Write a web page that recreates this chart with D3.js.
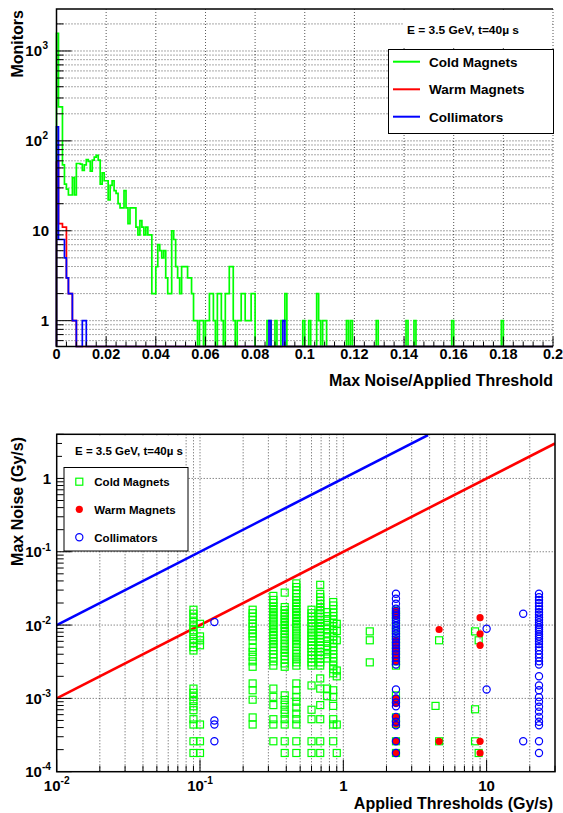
<!DOCTYPE html>
<html><head><meta charset="utf-8">
<script src="https://cdn.jsdelivr.net/npm/d3@7"></script>
<style>
body{margin:0;background:#fff}
svg{display:block}
text{font-family:"Liberation Sans",Arial,Helvetica,sans-serif;font-weight:bold;fill:#000}
</style></head><body>
<svg id="c" width="563" height="813"></svg>
<script>
// ================= DATA =================
// Top histogram: bins of width 0.0008 from 0 to 0.2 (250 bins)
const binWidth = 0.0008;
const greenCounts = [
1575,239,239,54,33,29,25,25,39,25,
56,56,55,47,54,62,59,46,61,66,
69,61,33,44,36,36,22,32,36,28,
26,20,18,18,28,18,12,18,18,18,
11,9,13,11,9,11,9,9,2,2,
4,7,6,5,6,3,2,2,10,8,
4,3,2,4,4,4,3,3,2,1,
1,0,1,1,0,1,1,2,2,1,
0,2,2,1,0,2,2,4,4,1,
0,1,1,2,2,1,1,1,2,2,
0,0,0,0,0,0,1,1,0,0,
1,0,0,1,1,2,0,0,0,0,
0,0,0,0,1,0,0,1,0,0,
0,2,1,0,1,1,0,0,0,0,
0,0,0,0,0,0,1,0,1,0,
0,0,0,0,0,0,0,0,0,0,
0,1,0,0,0,0,0,0,0,0,
0,0,0,0,0,0,1,0,0,0,
1,0,0,0,0,0,0,0,0,0,
0,0,0,0,0,0,0,0,0,1,
0,0,0,0,0,0,0,0,0,0,
0,0,0,0,0,0,0,0,0,0,
0,0,0,0,1,0,0,0,0,0,
0,0,0,0,0,0,0,0,0,0,
0,0,0,0,0,0,0,0,0,0];
const redCounts = [
58,12,12,11,11,3,2,2,1,1,
0,0,0,0,0,0,0,0,0,0];
const blueCounts = [
143,8,8,8,5,3,2,2,1,1,
0,0,0,1,1,0,0,0,0,0,
0,0,0,0,0,0,0,0,0,0,0,0,0,0,0,0,0,0,0,0,
0,0,0,0,0,0,0,0,0,0,0,0,0,0,0,0,0,0,0,0,
0,0,0,0,0,0,0,0,0,0,0,0,0,0,0,0,0,0,0,0,
0,0,0,0,0,0,0,0,0,0,0,0,0,0,0,0,0,0,0,0,
0,0,0,0,0,0,0,1,0,0,0,0,0,0,1,0];
const histSeries = ["Cold Magnets","Warm Magnets","Collimators"];
const topXTicks = [0,0.02,0.04,0.06,0.08,0.1,0.12,0.14,0.16,0.18,0.2];
const topXLabels = ["0","0.02","0.04","0.06","0.08","0.1","0.12","0.14","0.16","0.18","0.2"];
const topYTicks = [1,10,100,1000];
const topYLabelBase = ["1","10","10","10"];
const topYLabelExp = ["","","2","3"];

// Bottom scatter: columns of points (x = applied threshold, y = max noise)
const coldX = [0.09,0.1,0.233,0.325,0.39,0.47,0.6,0.69,0.77,0.85,0.9,1.53,2.33,4.4,4.66,8.3,8.8];
const coldY = [
 [0.0162,0.0143,0.0126,0.011,0.0096,0.0085,0.0075,0.0065,0.0057,0.005,0.0045,0.00136,0.00119,0.00105,0.00092,0.00078,0.00069,0.00052,0.00044,0.00026,0.00018],
 [0.0104,0.007,0.0062,0.0053,0.00044,0.00026,0.00018],
 [0.0162,0.0145,0.013,0.0118,0.0105,0.0095,0.0085,0.0077,0.007,0.0062,0.0049,0.0043,0.0037,0.0032,0.0027,0.0016,0.00129,0.00096,0.00055,0.00044],
 [0.025,0.022,0.02,0.018,0.0165,0.015,0.0138,0.0126,0.0115,0.0105,0.0096,0.0088,0.008,0.0073,0.0066,0.006,0.0055,0.005,0.0045,0.004,0.0036,0.0032,0.0028,0.00136,0.00105,0.00081,0.00052,0.00044,0.00026],
 [0.0277,0.0176,0.016,0.0145,0.0132,0.012,0.011,0.01,0.0091,0.0083,0.0075,0.0068,0.0062,0.0056,0.0051,0.0046,0.0042,0.0038,0.0034,0.003,0.0027,0.0011,0.00095,0.00082,0.0007,0.00062,0.00052,0.00044,0.00026,0.00018],
 [0.037,0.033,0.03,0.027,0.024,0.022,0.02,0.018,0.0165,0.015,0.0137,0.0125,0.0114,0.0104,0.0095,0.0087,0.0079,0.0072,0.0066,0.006,0.0055,0.005,0.0045,0.0041,0.0037,0.0034,0.0031,0.0028,0.0016,0.00129,0.00105,0.0009,0.00075,0.00062,0.00052,0.00044,0.00026,0.00018],
 [0.0162,0.0145,0.013,0.0118,0.0106,0.0096,0.0087,0.0079,0.0072,0.0065,0.0059,0.0053,0.0048,0.0043,0.0039,0.0035,0.0031,0.0028,0.0015,0.0007,0.00052,0.00026,0.00018],
 [0.0354,0.0267,0.024,0.0215,0.0195,0.0175,0.016,0.0145,0.013,0.0118,0.0107,0.0097,0.0088,0.008,0.0072,0.0065,0.0059,0.0053,0.0048,0.0043,0.0039,0.0035,0.0031,0.0028,0.00187,0.00136,0.00081,0.00052,0.00026,0.00018],
 [0.015,0.0132,0.0115,0.01,0.0088,0.0077,0.0068,0.006,0.0052,0.0046,0.004,0.0035,0.00136,0.00107],
 [0.0206,0.0185,0.0165,0.0148,0.0133,0.012,0.0108,0.0097,0.0087,0.0078,0.007,0.0063,0.0056,0.005,0.0045,0.004,0.0036,0.0032,0.0028,0.0025,0.0022,0.00129,0.00105,0.00079,0.00052,0.00044,0.00026],
 [0.0104,0.0083,0.0062,0.0024,0.002,0.00044,0.00018],
 [0.0082,0.0062,0.0031],
 [0.0158,0.0135,0.0115,0.0098,0.0084,0.0072,0.0062,0.0053,0.0045,0.0038,0.0032,0.0028,0.0011,0.00094,0.00055,0.00045,0.00026,0.00018],
 [0.00079],
 [0.0062,0.00026],
 [0.0082,0.00071,0.00026],
 [0.0062,0.00018]
];
const warmX = [2.33,4.66,9.0];
const warmY = [
 [0.0158,0.0135,0.0062,0.0053,0.0045,0.0038,0.0032,0.001,0.00085,0.00055,0.00045,0.00026,0.00018],
 [0.0087,0.00026],
 [0.0126,0.0076,0.0053,0.00026,0.00018]
];
const collX = [0.126,2.33,10,18,23.2];
const collY = [
 [0.011,0.0005,0.00044,0.00026],
 [0.0267,0.0229,0.0195,0.0167,0.0155,0.0145,0.0135,0.0125,0.0115,0.0106,0.0098,0.009,0.0083,0.0076,0.007,0.0064,0.0058,0.0053,0.0048,0.0044,0.004,0.0036,0.0032,0.0029,0.00132,0.001,0.00088,0.00078,0.00056,0.00048,0.00043,0.00026,0.00018],
 [0.0089,0.00132],
 [0.0143,0.00026],
 [0.0267,0.024,0.022,0.02,0.018,0.0165,0.015,0.0138,0.0127,0.0117,0.0108,0.01,0.0093,0.0087,0.0081,0.0075,0.007,0.0065,0.006,0.0055,0.005,0.0045,0.004,0.0036,0.0032,0.0029,0.002,0.0015,0.00129,0.00104,0.0009,0.00077,0.00066,0.00056,0.00048,0.00043,0.00026,0.00018]
];
// Reference lines (endpoints)
const blueLine = [[0.01,0.01],[3.9,3.9]];
const redLine = [[0.01,0.001],[30,3]];
const botXTicks = [0.01,0.1,1,10];
const botXLabelBase = ["10","10","1","10"];
const botXLabelExp = ["-2","-1","",""];
const botYTicks = [1e-4,1e-3,1e-2,1e-1,1];
const botYLabelBase = ["10","10","10","10","1"];
const botYLabelExp = ["-4","-3","-2","-1",""];
const infoText = "E = 3.5 GeV, t=40\u00b5 s";

// ================= DRAW =================
const svg = d3.select('#c');
const COLORS = {green:'#00ff00', red:'#ff0000', blue:'#0000ff'};
const isMajor = v => Math.abs(Math.log10(v) - Math.round(Math.log10(v))) < 1e-6;

function label(g, x, y, base, exp, size, anchor){
  const t = g.append('text').attr('x',x).attr('y',y).attr('font-size',size).attr('text-anchor',anchor);
  t.append('tspan').text(base);
  if (exp) t.append('tspan').attr('dy',-size*0.45).attr('font-size',size*0.68).text(exp);
  return t;
}
function gridStyle(sel){
  return sel.attr('stroke','#000').attr('stroke-width',0.9).attr('stroke-dasharray','1,2').attr('opacity',0.75);
}

// ---------- TOP CHART ----------
const tL=56.5,tR=553,tT=9,tB=346.5;
const xT = d3.scaleLinear().domain([0,0.2]).range([tL,tR]);
const yT = d3.scaleLog().domain([0.516,2930]).range([tB,tT]).clamp(true);
const gT = svg.append('g');

const yTickAll = yT.ticks();
gridStyle(gT.append('g').selectAll('line').data(yTickAll).join('line')
  .attr('x1',tL).attr('x2',tR).attr('y1',d=>yT(d)).attr('y2',d=>yT(d)));
gridStyle(gT.append('g').selectAll('line').data(topXTicks.slice(1)).join('line')
  .attr('x1',d=>xT(d)).attr('x2',d=>xT(d)).attr('y1',tT).attr('y2',tB));

function histPath(counts){
  const pts = [[0,0]];
  counts.forEach((c,i)=>pts.push([i*binWidth,c]));
  pts.push([counts.length*binWidth,0]);
  pts.push([0.2,0]);
  return d3.line().x(d=>xT(d[0])).y(d=>yT(Math.max(d[1],yT.domain()[0]))).curve(d3.curveStepAfter)(pts);
}
[[greenCounts,COLORS.green],[redCounts,COLORS.red],[blueCounts,COLORS.blue]].forEach(([c,col])=>{
  gT.append('path').attr('d',histPath(c)).attr('fill','none').attr('stroke',col).attr('stroke-width',1.7).attr('stroke-linejoin','miter');
});

gT.append('path').attr('d',`M${tR},${tT}H${tL}V${tB}H${tR}`).attr('fill','none').attr('stroke','#000').attr('stroke-width',1.5);

gT.append('g').selectAll('line').data(yTickAll).join('line')
  .attr('x1',tL).attr('x2',d=>tL+(isMajor(d)?15:7)).attr('y1',d=>yT(d)).attr('y2',d=>yT(d))
  .attr('stroke','#000').attr('stroke-width',1);
gT.append('g').selectAll('line').data(d3.range(0,51).map(i=>i*0.004)).join('line')
  .attr('x1',d=>xT(d)).attr('x2',d=>xT(d)).attr('y1',tB).attr('y2',(d,i)=>tB-(i%5===0?10:5))
  .attr('stroke','#000').attr('stroke-width',1);

topXTicks.forEach((v,i)=>label(gT, xT(v), 359, topXLabels[i], '', 14.5, 'middle'));
topYTicks.forEach((v,i)=>{
  label(gT, topYLabelExp[i]?42:49, yT(v)+5.5, topYLabelBase[i], '', 15, 'end');
  if (topYLabelExp[i]) label(gT, 42.5, yT(v)-2, topYLabelExp[i], '', 10, 'start');
});
gT.append('text').attr('transform','translate(23,10) rotate(-90)').attr('text-anchor','end').attr('font-size',16).text('Monitors');
gT.append('text').attr('x',553).attr('y',385.5).attr('text-anchor','end').attr('font-size',16).text('Max Noise/Applied Threshold');

gT.append('rect').attr('x',403).attr('y',12).attr('width',149).attr('height',36).attr('fill','#fff');
gT.append('text').attr('x',407).attr('y',34).attr('font-size',10).attr('textLength',112).attr('lengthAdjust','spacingAndGlyphs').text(infoText);
gT.append('rect').attr('x',388.5).attr('y',49.5).attr('width',165).attr('height',84).attr('fill','#fff').attr('stroke','#000').attr('stroke-width',1);
const legT = [[COLORS.green,61.7],[COLORS.red,89.3],[COLORS.blue,116.7]];
legT.forEach(([col,y],i)=>{
  gT.append('line').attr('x1',393).attr('x2',420).attr('y1',y).attr('y2',y).attr('stroke',col).attr('stroke-width',2);
  gT.append('text').attr('x',429).attr('y',y+5).attr('font-size',13.5).text(histSeries[i]);
});

// ---------- BOTTOM CHART ----------
const bL=56.7,bR=555,bT=434.3,bB=771.7;
const xB = d3.scaleLog().domain([0.01,30]).range([bL,bR]);
const yB = d3.scaleLog().domain([1e-4,4]).range([bB,bT]);
const gB = svg.append('g');
svg.append('defs').append('clipPath').attr('id','clipB').append('rect')
  .attr('x',bL).attr('y',bT).attr('width',bR-bL).attr('height',bB-bT);

const xBAll = xB.ticks();
const yBAll = yB.ticks();
gridStyle(gB.append('g').selectAll('line').data(xBAll.filter(d=>xB(d)>bL+1&&xB(d)<bR-1)).join('line')
  .attr('x1',d=>xB(d)).attr('x2',d=>xB(d)).attr('y1',bT).attr('y2',bB));
gridStyle(gB.append('g').selectAll('line').data(yBAll.filter(d=>isMajor(d)&&yB(d)<bB-1&&yB(d)>bT+1)).join('line')
  .attr('x1',bL).attr('x2',bR).attr('y1',d=>yB(d)).attr('y2',d=>yB(d)));

const plot = gB.append('g').attr('clip-path','url(#clipB)');
const lineGen = d3.line().x(d=>xB(d[0])).y(d=>yB(d[1]));
plot.append('path').attr('d',lineGen(blueLine)).attr('stroke',COLORS.blue).attr('stroke-width',2.6).attr('fill','none');
plot.append('path').attr('d',lineGen(redLine)).attr('stroke',COLORS.red).attr('stroke-width',2.6).attr('fill','none');

function flatten(xs, ys){ const out=[]; xs.forEach((x,i)=>ys[i].forEach(y=>out.push([x,y]))); return out; }
const sq = 7;
plot.append('g').selectAll('rect').data(flatten(coldX,coldY)).join('rect')
  .attr('x',d=>xB(d[0])-sq/2).attr('y',d=>yB(d[1])-sq/2).attr('width',sq).attr('height',sq)
  .attr('fill','none').attr('stroke',COLORS.green).attr('stroke-width',1.2);
plot.append('g').selectAll('circle').data(flatten(warmX,warmY)).join('circle')
  .attr('cx',d=>xB(d[0])).attr('cy',d=>yB(d[1])).attr('r',3.6).attr('fill',COLORS.red);
plot.append('g').selectAll('circle').data(flatten(collX,collY)).join('circle')
  .attr('cx',d=>xB(d[0])).attr('cy',d=>yB(d[1])).attr('r',3.6)
  .attr('fill','none').attr('stroke',COLORS.blue).attr('stroke-width',1.2);

gB.append('rect').attr('x',bL).attr('y',bT).attr('width',bR-bL).attr('height',bB-bT)
  .attr('fill','none').attr('stroke','#000').attr('stroke-width',1.5);
gB.append('g').selectAll('line').data(yBAll).join('line')
  .attr('x1',bL).attr('x2',d=>bL+(isMajor(d)?15:7)).attr('y1',d=>yB(d)).attr('y2',d=>yB(d))
  .attr('stroke','#000').attr('stroke-width',1);
gB.append('g').selectAll('line').data(xBAll).join('line')
  .attr('x1',d=>xB(d)).attr('x2',d=>xB(d)).attr('y1',bB).attr('y2',d=>bB-(isMajor(d)?12:6))
  .attr('stroke','#000').attr('stroke-width',1);

botXTicks.forEach((v,i)=>{
  label(gB, xB(v), 791, botXLabelBase[i], botXLabelExp[i], 15, 'middle');
});
botYTicks.forEach((v,i)=>{
  label(gB, 51, yB(v)+5.5, botYLabelBase[i], botYLabelExp[i], 15, 'end');
});
gB.append('text').attr('transform','translate(23,437) rotate(-90)').attr('text-anchor','end').attr('font-size',16).text('Max Noise (Gy/s)');
gB.append('text').attr('x',553).attr('y',809).attr('text-anchor','end').attr('font-size',16).text('Applied Thresholds (Gy/s)');

gB.append('rect').attr('x',62).attr('y',436).attr('width',121).attr('height',31).attr('fill','#fff');
gB.append('text').attr('x',75).attr('y',455).attr('font-size',10).attr('textLength',108).attr('lengthAdjust','spacingAndGlyphs').text(infoText);
gB.append('rect').attr('x',64).attr('y',467.5).attr('width',124).attr('height',83.5).attr('fill','#fff').attr('stroke','#000').attr('stroke-width',1);
const legB = 94.3, mx = 79.3;
gB.append('rect').attr('x',mx-3.5).attr('y',481.7-3.5).attr('width',7).attr('height',7).attr('fill','none').attr('stroke',COLORS.green).attr('stroke-width',1.2);
gB.append('circle').attr('cx',mx).attr('cy',509.3).attr('r',3.6).attr('fill',COLORS.red);
gB.append('circle').attr('cx',mx).attr('cy',537.3).attr('r',3.6).attr('fill','none').attr('stroke',COLORS.blue).attr('stroke-width',1.2);
histSeries.forEach((s,i)=>gB.append('text').attr('x',legB).attr('y',[481.7,509.3,537.3][i]+4.3).attr('font-size',11.5).text(s));
</script>
</body></html>
